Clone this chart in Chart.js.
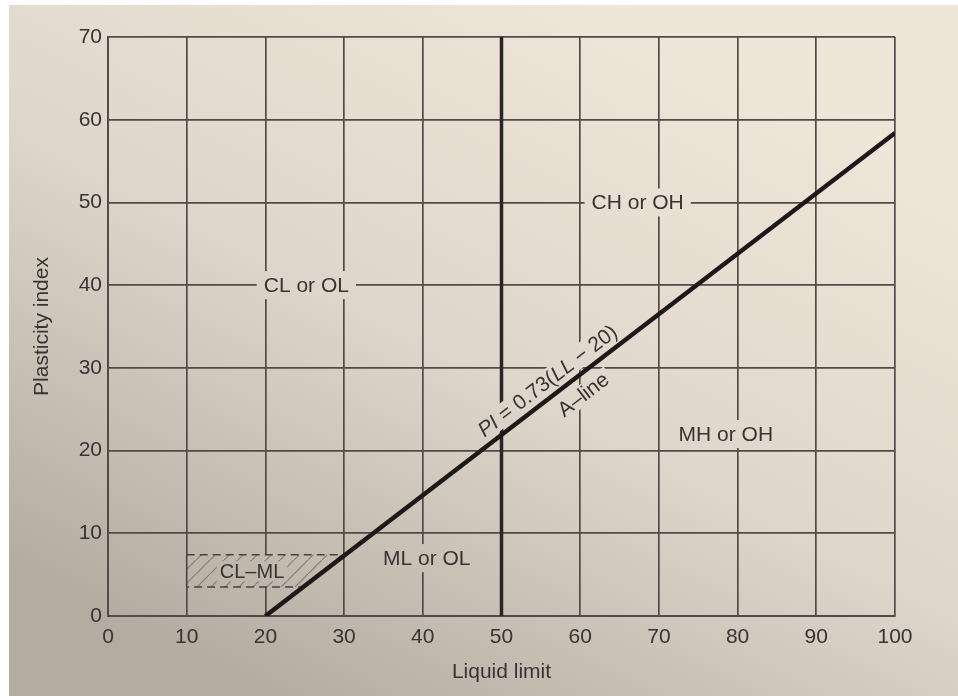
<!DOCTYPE html>
<html>
<head>
<meta charset="utf-8">
<script src="https://cdn.jsdelivr.net/npm/chart.js@4.4.1/dist/chart.umd.min.js"></script>
<style>
  html, body { margin: 0; padding: 0; background: #fff; }
  #wrap { width: 958px; height: 696px; }
</style>
</head>
<body>
<div id="wrap"><canvas id="plasticityChart" width="958" height="696"></canvas></div>
<script>
// values
var aLineLL = [20, 100];
var aLinePI = [0, 58.4];
var ll50LL = [50, 50];
var ll50PI = [0, 70];
var clmlLL = [10, 30.1, 24.8, 10, 10];
var clmlPI = [7.4, 7.4, 3.5, 3.5, 7.4];

var zoneNames = ['CL or OL', 'CH or OH', 'MH or OH', 'ML or OL', 'CL–ML'];
var zoneLL = [25.2, 67.3, 78.5, 40.5, 18.3];
var zonePI = [40, 50, 22, 7, 5.4];

// labels sitting on the A-line: [formula, name]
var lineTextLL = [57, 59];
var lineTextPI = [27.0, 28.5];

var textColor = '#3a3333';
var gridColor = '#554947';
var fontFamily = '"Liberation Sans", Arial, Helvetica, sans-serif';

function toPts(xs, ys) {
  var out = [];
  for (var i = 0; i < xs.length; i++) out.push({ x: xs[i], y: ys[i] });
  return out;
}

var canvas = document.getElementById('plasticityChart');
var ctx = canvas.getContext('2d');

// paper colour of the photographed page
var paper = ctx.createLinearGradient(620, 0, 260, 696);
paper.addColorStop(0, '#f0e5d9');
paper.addColorStop(0.5, '#dfd6cb');
paper.addColorStop(1, '#b4aba1');

// diagonal hatch for the CL-ML zone
var tile = document.createElement('canvas');
tile.width = 14; tile.height = 14;
var tctx = tile.getContext('2d');
tctx.strokeStyle = '#877c75';
tctx.lineWidth = 1.2;
tctx.beginPath();
tctx.moveTo(-1, 15); tctx.lineTo(15, -1);
tctx.stroke();
var hatch = ctx.createPattern(tile, 'repeat');

var paperPlugin = {
  id: 'paper',
  beforeDraw: function(chart) {
    var c = chart.ctx;
    c.save();
    c.fillStyle = '#ffffff';
    c.fillRect(0, 0, chart.width, chart.height);
    c.fillStyle = paper;
    c.fillRect(9, 5, chart.width - 9, chart.height - 5);
    c.restore();
  }
};

function drawOnLine(c, parts, px, py, ang, off, halfH) {
  var widths = [], total = 0;
  parts.forEach(function(p) {
    c.font = (p[1] ? 'italic ' : '') + '21px ' + fontFamily;
    var w = c.measureText(p[0]).width;
    widths.push(w);
    total += w;
  });
  c.save();
  c.translate(px, py);
  c.rotate(ang);
  c.translate(0, off);
  c.beginPath();
  c.rect(-total / 2 - 4, -halfH, total + 8, halfH * 2);
  c.restore();
  c.fillStyle = paper;
  c.fill();

  c.save();
  c.translate(px, py);
  c.rotate(ang);
  c.translate(0, off);
  c.fillStyle = textColor;
  c.textAlign = 'left';
  c.textBaseline = 'middle';
  var x = -total / 2;
  parts.forEach(function(p, i) {
    c.font = (p[1] ? 'italic ' : '') + '21px ' + fontFamily;
    c.fillText(p[0], x, 1);
    x += widths[i];
  });
  c.restore();
}

var labelPlugin = {
  id: 'zoneLabels',
  afterDatasetsDraw: function(chart) {
    var c = chart.ctx, xs = chart.scales.x, ys = chart.scales.y;
    c.save();
    c.textAlign = 'center';
    c.textBaseline = 'middle';
    for (var i = 0; i < zoneNames.length; i++) {
      var small = zoneNames[i] === 'CL–ML';
      c.font = (small ? '20px ' : '21px ') + fontFamily;
      var px = xs.getPixelForValue(zoneLL[i]);
      var py = ys.getPixelForValue(zonePI[i]);
      var w = c.measureText(zoneNames[i]).width;
      var padX = small ? 3 : 7, halfH = small ? 10 : 14;
      c.fillStyle = paper;
      c.fillRect(px - w / 2 - padX, py - halfH, w + padX * 2, halfH * 2);
      c.fillStyle = textColor;
      c.fillText(zoneNames[i], px, py + 1);
    }

    var x1 = xs.getPixelForValue(aLineLL[0]), y1 = ys.getPixelForValue(aLinePI[0]);
    var x2 = xs.getPixelForValue(aLineLL[1]), y2 = ys.getPixelForValue(aLinePI[1]);
    var ang = Math.atan2(y2 - y1, x2 - x1);

    drawOnLine(c, [['PI', true], [' = 0.73(', false], ['LL', true], [' − 20)', false]],
      xs.getPixelForValue(lineTextLL[0]), ys.getPixelForValue(lineTextPI[0]), ang, -15, 11);
    drawOnLine(c, [['A–line', false]],
      xs.getPixelForValue(lineTextLL[1]), ys.getPixelForValue(lineTextPI[1]), ang, 18, 10);
    c.restore();
  }
};

var chart = new Chart(ctx, {
  type: 'scatter',
  data: {
    datasets: [
      {
        // paper under the hatch, hides the grid inside the zone
        data: toPts(clmlLL, clmlPI),
        showLine: true,
        fill: 'shape',
        backgroundColor: paper,
        borderWidth: 0,
        pointRadius: 0,
        order: 5
      },
      {
        data: toPts(clmlLL, clmlPI),
        showLine: true,
        fill: 'shape',
        backgroundColor: hatch,
        borderWidth: 0,
        pointRadius: 0,
        order: 4
      },
      {
        data: toPts(clmlLL, clmlPI),
        showLine: true,
        fill: false,
        borderColor: '#4b403e',
        borderWidth: 1.6,
        borderDash: [8, 5],
        segment: {
          borderDash: function(s) { return s.p0DataIndex === 3 ? [] : undefined; }
        },
        pointRadius: 0,
        order: 3
      },
      {
        label: 'LL = 50',
        data: toPts(ll50LL, ll50PI),
        showLine: true,
        borderColor: '#2a2424',
        borderWidth: 3.5,
        pointRadius: 0,
        order: 2
      },
      {
        label: 'A-line',
        data: toPts(aLineLL, aLinePI),
        showLine: true,
        borderColor: '#1d1919',
        borderWidth: 4.5,
        borderCapStyle: 'butt',
        pointRadius: 0,
        order: 1
      }
    ]
  },
  options: {
    responsive: false,
    animation: false,
    layout: { padding: { left: 10, right: 63, top: 37, bottom: 0 } },
    plugins: {
      legend: { display: false },
      tooltip: { enabled: false }
    },
    scales: {
      x: {
        type: 'linear',
        min: 0,
        max: 100,
        ticks: { stepSize: 10, padding: 9, color: textColor, font: { size: 21, family: fontFamily } },
        grid: { color: gridColor, lineWidth: 1.7, drawTicks: false },
        border: { color: gridColor, width: 1.9 },
        title: { display: true, text: 'Liquid limit', color: textColor, font: { size: 21, family: fontFamily }, padding: { top: 4, bottom: 11 } },
        afterFit: function(s) { s.height = 80; }
      },
      y: {
        type: 'linear',
        min: 0,
        max: 70,
        ticks: { stepSize: 10, padding: 6, color: textColor, font: { size: 21, family: fontFamily } },
        grid: { color: gridColor, lineWidth: 1.7, drawTicks: false },
        border: { color: gridColor, width: 1.9 },
        title: { display: true, text: 'Plasticity index', color: textColor, font: { size: 21, family: fontFamily }, padding: { top: 20, bottom: 4 } },
        afterFit: function(s) { s.width = 98; }
      }
    }
  },
  plugins: [paperPlugin, labelPlugin]
});
</script>
</body>
</html>
